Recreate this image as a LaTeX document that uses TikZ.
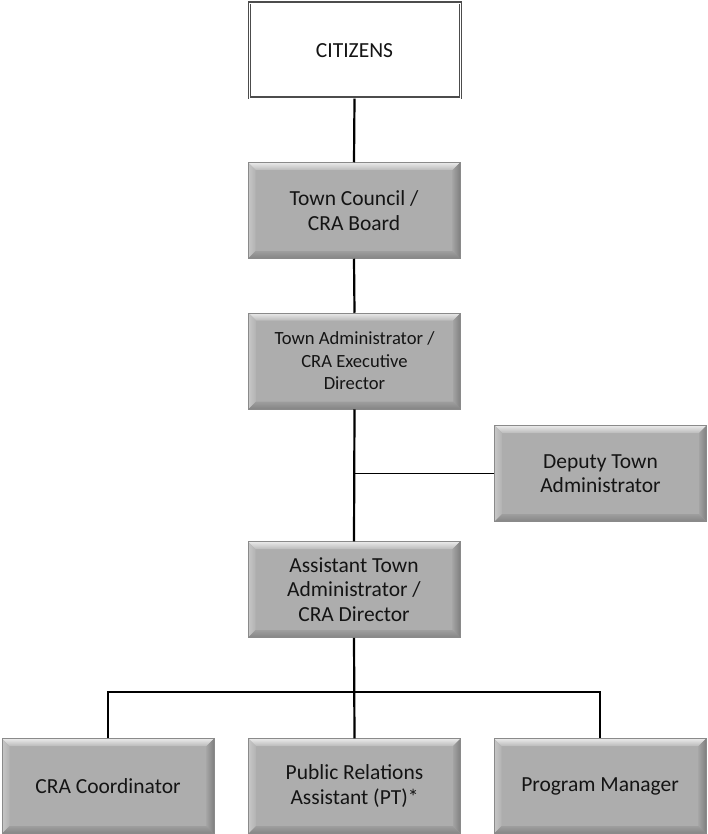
\documentclass[tikz,border=0pt]{standalone}
\usepackage{fontspec}
\setmainfont{Carlito}
\definecolor{boxgray}{HTML}{ADADAD}
\definecolor{edgegray}{HTML}{8A8A8A}
\definecolor{txt}{HTML}{141414}
\begin{document}
\begin{tikzpicture}[x=1pt,y=1pt,
  bevelbox/.style={rectangle, fill=boxgray, draw=edgegray, line width=0.5pt,
    minimum width=212pt, minimum height=96pt, inner sep=2pt, align=center,
    text=txt, font=\fontsize{21.5}{24.5}\selectfont,
    path picture={
      \def\bw{7.5pt}
      \coordinate (NW) at (path picture bounding box.north west);
      \coordinate (NE) at (path picture bounding box.north east);
      \coordinate (SW) at (path picture bounding box.south west);
      \coordinate (SE) at (path picture bounding box.south east);
      \shade[top color=black!8, bottom color=black!27] (NW) -- (NE) -- ([xshift=-\bw,yshift=-\bw]NE) -- ([xshift=\bw,yshift=-\bw]NW) -- cycle;
      \shade[left color=black!22, right color=black!30] (NW) -- (SW) -- ([xshift=\bw,yshift=\bw]SW) -- ([xshift=\bw,yshift=-\bw]NW) -- cycle;
      \shade[left color=black!36, right color=black!50] (NE) -- (SE) -- ([xshift=-\bw,yshift=\bw]SE) -- ([xshift=-\bw,yshift=-\bw]NE) -- cycle;
      \shade[top color=black!38, bottom color=black!48] (SW) -- (SE) -- ([xshift=-\bw,yshift=\bw]SE) -- ([xshift=\bw,yshift=\bw]SW) -- cycle;
    }},
  whitebox/.style={rectangle, fill=white, draw=black!70, line width=1.1pt,
    double=white, double distance=0.8pt,
    minimum width=211pt, minimum height=95pt, align=center,
    text=txt, font=\fontsize{21.5}{24.5}\selectfont},
  link/.style={draw=black, line width=2.2pt},
  buslink/.style={draw=black, line width=1.7pt}
]
\useasboundingbox (0,0) rectangle (707,-834);

\node[whitebox] (cit) at (354.5,-50.5) {CITIZENS};
\node[bevelbox] (tc) at (354,-210.5) {Town Council /\\CRA Board};
\node[bevelbox, font=\fontsize{18.6}{22.5}\selectfont] (ta) at (354.5,-361) {Town Administrator /\\CRA Executive\\Director};
\node[bevelbox] (dep) at (600.5,-473.5) {Deputy Town\\Administrator};
\node[bevelbox] (ata) at (354,-589.5) {Assistant Town\\Administrator /\\CRA Director};
\node[bevelbox, minimum height=95pt] (cra) at (108,-786) {CRA Coordinator};
\node[bevelbox, minimum height=95pt] (pr) at (354.5,-786) {Public Relations\\Assistant (PT)*};
\node[bevelbox, minimum height=95pt] (pm) at (600,-786) {Program Manager};

\coordinate (bus) at (354.5,-692);

\draw[link] (cit.south) -- (tc.north);
\draw[link] (tc.south) -- (ta.north);
\draw[link] (ta.south) -- (ata.north);
\draw[buslink] (dep.west) -- (dep.west -| ta.south);
\draw[link] (ata.south) -- (pr.north);
\draw[buslink] (cra.north) |- (bus) -| (pm.north);
\end{tikzpicture}
\end{document}
